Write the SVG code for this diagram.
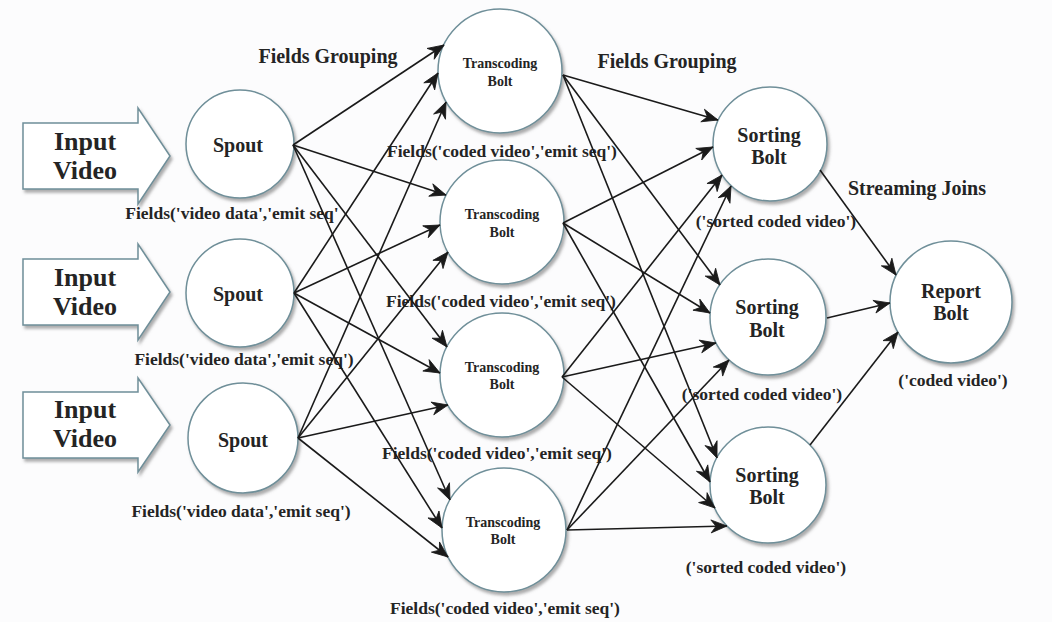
<svg xmlns="http://www.w3.org/2000/svg" width="1052" height="622" viewBox="0 0 1052 622">
  <defs>
    <filter id="shadow" x="-20%" y="-20%" width="150%" height="150%">
      <feDropShadow dx="2" dy="3" stdDeviation="1.8" flood-color="#6b6b6b" flood-opacity="0.55"/>
    </filter>
    <marker id="arr" viewBox="-18 -9 19 18" refX="0" refY="0" markerWidth="19" markerHeight="18" markerUnits="userSpaceOnUse" orient="auto">
      <path d="M0,0 L-16,-6.5 L-11,0 L-16,6.5 Z" fill="#1a1a1a" stroke="#1a1a1a" stroke-width="0.8" stroke-linejoin="miter"/>
    </marker>
  </defs>
  <style>
    text { font-family: "Liberation Serif", "Times New Roman", serif; font-weight: bold; fill: #242424; text-anchor: middle; }
    .node { fill: #ffffff; stroke: #6f8f99; stroke-width: 1.5; filter: url(#shadow); }
    .input { fill: #ffffff; stroke: #6f8f99; stroke-width: 1.5; filter: url(#shadow); }
    .big { font-size: 26px; }
    .mid { font-size: 20px; }
    .small { font-size: 14px; }
    .lbl { font-size: 17.5px; }
    .title { font-size: 20px; }
    #edges line { stroke: #1a1a1a; stroke-width: 1.6; marker-end: url(#arr); }
  </style>

  <rect width="1052" height="622" fill="#fcfcfd"/>

  <!-- stage titles -->
  <text class="title" x="328" y="63">Fields Grouping</text>
  <text class="title" x="667" y="68">Fields Grouping</text>
  <text class="title" x="917" y="195">Streaming Joins</text>

  <!-- input arrows -->
  <g id="input1">
    <path class="input" d="M23,123 L138,123 L138,108 L170,156 L138,204 L138,189 L23,189 Z"/>
    <text class="big" x="85" y="150">Input</text>
    <text class="big" x="85" y="179">Video</text>
  </g>
  <g id="input2">
    <path class="input" d="M23,259 L138,259 L138,244 L170,292 L138,340 L138,325 L23,325 Z"/>
    <text class="big" x="85" y="286">Input</text>
    <text class="big" x="85" y="315">Video</text>
  </g>
  <g id="input3">
    <path class="input" d="M23,392 L138,392 L138,378 L170,425 L138,472 L138,458 L23,458 Z"/>
    <text class="big" x="85" y="418">Input</text>
    <text class="big" x="85" y="447">Video</text>
  </g>

  <!-- spouts -->
  <g id="spout1">
    <circle class="node" cx="240" cy="144" r="54"/>
    <text class="mid" x="238" y="152">Spout</text>
    <text class="lbl" x="232" y="219">Fields('video data','emit seq'</text>
  </g>
  <g id="spout2">
    <circle class="node" cx="240" cy="293" r="54"/>
    <text class="mid" x="238" y="301">Spout</text>
    <text class="lbl" x="244" y="365">Fields('video data','emit seq')</text>
  </g>
  <g id="spout3">
    <circle class="node" cx="243" cy="438" r="55"/>
    <text class="mid" x="243" y="447">Spout</text>
    <text class="lbl" x="241" y="517">Fields('video data','emit seq')</text>
  </g>

  <!-- transcoding bolts -->
  <g id="transcoding1">
    <circle class="node" cx="500" cy="71" r="62"/>
    <text class="small" x="500" y="68">Transcoding</text>
    <text class="small" x="500" y="86">Bolt</text>
    <text class="lbl" x="502" y="157">Fields('coded video','emit seq')</text>
  </g>
  <g id="transcoding2">
    <circle class="node" cx="502" cy="222" r="62"/>
    <text class="small" x="502" y="219">Transcoding</text>
    <text class="small" x="502" y="237">Bolt</text>
    <text class="lbl" x="501" y="307">Fields('coded video','emit seq')</text>
  </g>
  <g id="transcoding3">
    <circle class="node" cx="502" cy="375" r="62"/>
    <text class="small" x="502" y="372">Transcoding</text>
    <text class="small" x="502" y="389">Bolt</text>
    <text class="lbl" x="497" y="459">Fields('coded video','emit seq')</text>
  </g>
  <g id="transcoding4">
    <circle class="node" cx="504" cy="530" r="62"/>
    <text class="small" x="503" y="527">Transcoding</text>
    <text class="small" x="503" y="544">Bolt</text>
    <text class="lbl" x="505" y="614">Fields('coded video','emit seq')</text>
  </g>

  <!-- sorting bolts -->
  <g id="sorting1">
    <circle class="node" cx="770" cy="144" r="57"/>
    <text class="mid" x="769" y="142">Sorting</text>
    <text class="mid" x="769" y="164">Bolt</text>
    <text class="lbl" x="776" y="227">('sorted coded video')</text>
  </g>
  <g id="sorting2">
    <circle class="node" cx="768" cy="317" r="58"/>
    <text class="mid" x="767" y="314">Sorting</text>
    <text class="mid" x="767" y="337">Bolt</text>
    <text class="lbl" x="762" y="400">('sorted coded video')</text>
  </g>
  <g id="sorting3">
    <circle class="node" cx="768" cy="485" r="58"/>
    <text class="mid" x="767" y="482">Sorting</text>
    <text class="mid" x="767" y="504">Bolt</text>
    <text class="lbl" x="766" y="573">('sorted coded video')</text>
  </g>

  <!-- report bolt -->
  <g id="report">
    <circle class="node" cx="951" cy="302" r="61"/>
    <text class="mid" x="951" y="298">Report</text>
    <text class="mid" x="951" y="320">Bolt</text>
    <text class="lbl" x="953" y="386">('coded video')</text>
  </g>

  <!-- stream connections -->
  <g id="edges">
    <!-- spouts to transcoding bolts -->
    <line x1="293" y1="145" x2="444" y2="45"/>
    <line x1="293" y1="145" x2="446" y2="195"/>
    <line x1="293" y1="145" x2="447" y2="347"/>
    <line x1="293" y1="145" x2="450" y2="500"/>
    <line x1="294" y1="293" x2="438" y2="73"/>
    <line x1="294" y1="293" x2="440" y2="225"/>
    <line x1="294" y1="293" x2="440" y2="373"/>
    <line x1="294" y1="293" x2="442" y2="528"/>
    <line x1="298" y1="438" x2="446" y2="102"/>
    <line x1="298" y1="438" x2="448" y2="252"/>
    <line x1="298" y1="438" x2="448" y2="405"/>
    <line x1="298" y1="438" x2="448" y2="557"/>
    <!-- transcoding bolts to sorting bolts -->
    <line x1="563" y1="75" x2="718" y2="120"/>
    <line x1="563" y1="75" x2="720" y2="285"/>
    <line x1="563" y1="75" x2="717" y2="458"/>
    <line x1="563" y1="223" x2="713" y2="147"/>
    <line x1="563" y1="223" x2="710" y2="313"/>
    <line x1="563" y1="223" x2="710" y2="482"/>
    <line x1="562" y1="377" x2="722" y2="175"/>
    <line x1="562" y1="377" x2="716" y2="343"/>
    <line x1="562" y1="377" x2="715" y2="508"/>
    <line x1="567" y1="530" x2="731" y2="186"/>
    <line x1="567" y1="530" x2="729" y2="360"/>
    <line x1="567" y1="530" x2="727" y2="526"/>
    <!-- sorting bolts to report bolt -->
    <line x1="820" y1="170" x2="896" y2="275"/>
    <line x1="827" y1="318" x2="890" y2="303"/>
    <line x1="810" y1="445" x2="898" y2="332"/>
  </g>
</svg>
